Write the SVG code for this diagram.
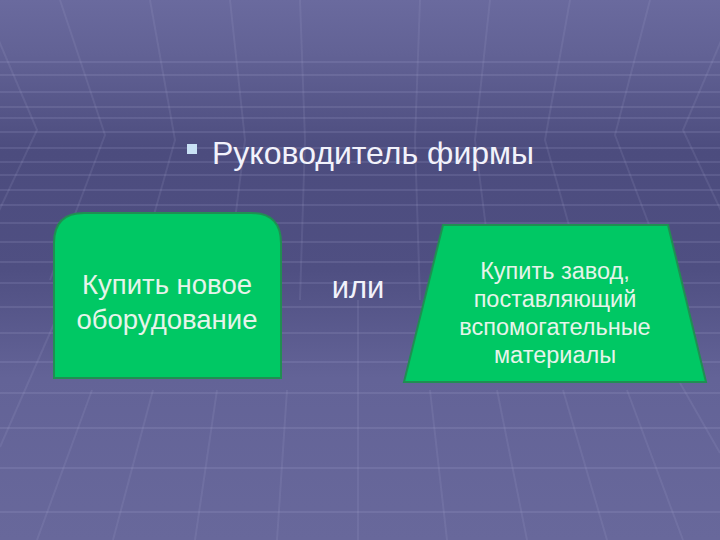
<svg xmlns="http://www.w3.org/2000/svg" width="720" height="540" viewBox="0 0 720 540">
<defs>
<linearGradient id="bg" x1="0" y1="0" x2="0" y2="1">
<stop offset="0" stop-color="#6a6a9e"/>
<stop offset="0.1" stop-color="#626295"/>
<stop offset="0.28" stop-color="#4c4c7e"/>
<stop offset="0.5" stop-color="#4f4f82"/>
<stop offset="0.7" stop-color="#636397"/>
<stop offset="1" stop-color="#68689b"/>
</linearGradient>
<style>
.h{stroke:#b4b4dc;stroke-opacity:0.2;stroke-width:1.5;fill:none}
.g{stroke:#b4b4dc;stroke-opacity:0.13;stroke-width:2;fill:none}
.shape{fill:#00c864;stroke:#1f8f52;stroke-width:2}
.lbl{font-family:"Liberation Sans",Arial,sans-serif;fill:#e6f4ea;text-anchor:middle}
.title{font-family:"Liberation Sans",Arial,sans-serif;fill:#f2f2fb}
</style>
</defs>
<g id="background">
<rect x="0" y="0" width="720" height="540" fill="url(#bg)"/>
<path class="h" d="M0,62H720M0,75H720M0,92H720M0,107H720M0,118H720M0,132H720M0,148H720M0,162H720M0,175H720M0,190H720M0,205H720M0,223H720M0,242H720M0,262H720M0,283H720M0,307H720M0,333H720M0,362H720M0,393H720M0,428H720M0,468H720M0,512H720"/>
<path class="g" d="M-10,20L37,130L-10,230M60,0L105,135L50,280M150,0L175,140L130,300M230,0L245,140L225,300M300,0L305,140L300,300M420,0L415,140L420,300M490,0L475,140L495,300M570,0L545,140L590,300M650,0L615,135L670,280M730,20L683,130L730,230"/>
<path class="g" d="M60,310L0,447M92,390L37,540M153,390L113,540M217,390L195,540M287,390L277,540M358,300L358,540M430,390L447,540M497,390L527,540M563,390L607,540M627,390L683,540M680,383L720,453"/>
</g>
<g id="title">
<rect x="187" y="144" width="10" height="10" fill="#c9e1f5"/>
<text class="title" x="212" y="164" font-size="32">Руководитель фирмы</text>
</g>
<g id="node-equipment">
<path class="shape" d="M54,378L54,243Q54,213 84,213L251,213Q281,213 281,243L281,378Z"/>
<text class="lbl" x="167" y="294" font-size="27.5">Купить новое</text>
<text class="lbl" x="167" y="329" font-size="27.5">оборудование</text>
</g>
<g id="node-or">
<text class="title" x="358" y="298" font-size="31" text-anchor="middle">или</text>
</g>
<g id="node-factory">
<path class="shape" d="M443,225L668,225L706,382L404,382Z"/>
<text class="lbl" x="555" y="279" font-size="23.5">Купить завод,</text>
<text class="lbl" x="555" y="307" font-size="23.5">поставляющий</text>
<text class="lbl" x="555" y="335" font-size="23.5">вспомогательные</text>
<text class="lbl" x="555" y="363" font-size="23.5">материалы</text>
</g>
<g id="connectors"/>
</svg>
